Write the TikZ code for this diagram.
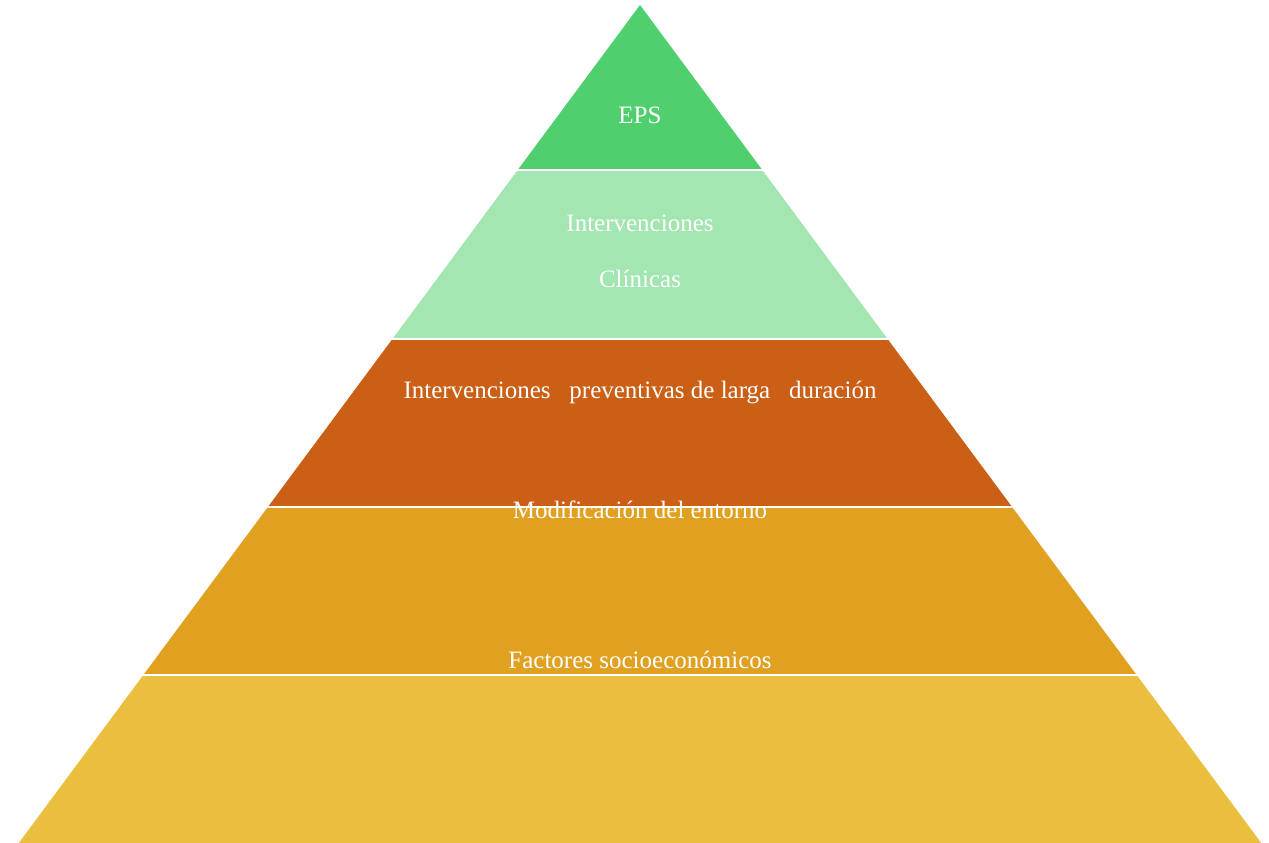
\documentclass[tikz,border=0pt]{standalone}
\usepackage{fontspec}
\setmainfont{Liberation Serif}
\definecolor{cA}{HTML}{4FCF6E}
\definecolor{cB}{HTML}{A3E6B1}
\definecolor{cC}{HTML}{CA5F15}
\definecolor{cD}{HTML}{E0A020}
\definecolor{cE}{HTML}{EABE3E}
\begin{document}
\begin{tikzpicture}[x=1pt,y=-1pt,
  sep/.style={draw=white,line width=2.4pt},
  lbl/.style={text=white,font=\fontsize{25}{29}\selectfont,anchor=base,inner sep=0pt}]
\useasboundingbox (0,0) rectangle (1269,843);
\def\ax{640}\def\ay{5}\def\s{0.7413}
\foreach \ya/\yb/\c in {5/170/cA,170/339/cB,339/507/cC,507/675/cD,675/843/cE}{
  \pgfmathsetmacro\wa{(\ya-\ay)*\s}
  \pgfmathsetmacro\wb{(\yb-\ay)*\s}
  \fill[\c] (\ax-\wa,\ya) -- (\ax+\wa,\ya) -- (\ax+\wb,\yb) -- (\ax-\wb,\yb) -- cycle;
}
\foreach \y in {170,339,507,675}{
  \pgfmathsetmacro\w{(\y-\ay)*\s+4}
  \draw[sep] (\ax-\w,\y) -- (\ax+\w,\y);
}
\node[lbl] (t1) at (640,123) {EPS};
\node[lbl] (t2a) at (640,231) {Intervenciones};
\node[lbl] (t2b) at (640,287) {Clínicas};
\node[lbl] (t3) at (640,398) {Intervenciones~~ preventivas de larga~~ duración};
\node[lbl] (t4) at (640,518) {Modificación del entorno};
\node[lbl] (t5) at (640,668) {Factores socioeconómicos};
\end{tikzpicture}
\end{document}
